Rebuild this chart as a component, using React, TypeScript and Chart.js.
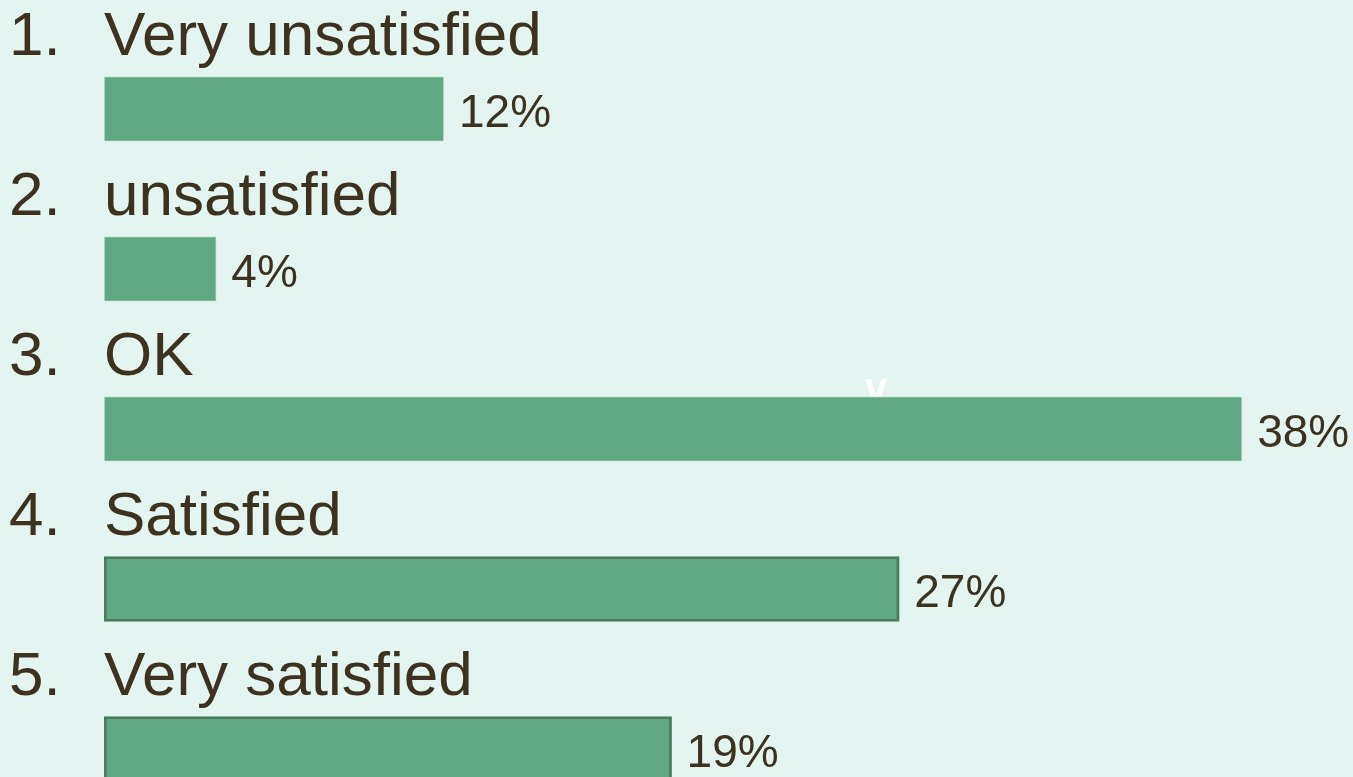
import React, { useEffect, useRef } from "react";
import { Chart, registerables } from "chart.js";

Chart.register(...registerables);

const itemNumbers = ["1.", "2.", "3.", "4.", "5."];
const categories = ["Very unsatisfied", "unsatisfied", "OK", "Satisfied", "Very satisfied"];
const percentValues = [11.5, 3.8, 38.5, 26.9, 19.2];
const valueLabels = ["12%", "4%", "38%", "27%", "19%"];

const BG = "#E4F4F0";
const TEXT = "#3D3220";
const FONT = '"Liberation Sans", Arial, Helvetica, sans-serif';

const labelPlugin = {
  id: "labelPlugin",
  beforeDatasetsDraw(chart: any) {
    const ctx = chart.ctx;
    const meta = chart.getDatasetMeta(0);
    const el = meta.data[2];
    if (!el) return;
    ctx.save();
    ctx.fillStyle = "#FFFFFF";
    ctx.font = `bold 40px ${FONT}`;
    ctx.textAlign = "center";
    ctx.textBaseline = "alphabetic";
    ctx.fillText("v", 876, el.y - 28);
    ctx.restore();
  },
  afterDatasetsDraw(chart: any) {
    const ctx = chart.ctx;
    const meta = chart.getDatasetMeta(0);
    const left = chart.chartArea.left;
    ctx.save();
    ctx.fillStyle = TEXT;
    ctx.textBaseline = "alphabetic";
    ctx.textAlign = "left";
    meta.data.forEach((el: any, i: number) => {
      ctx.font = `62px ${FONT}`;
      ctx.fillText(itemNumbers[i], 9, el.y - 54);
      ctx.fillText(categories[i], left, el.y - 54);
      ctx.font = `46px ${FONT}`;
      ctx.fillText(valueLabels[i], el.x + 15, el.y + 18);
    });
    ctx.restore();
  },
};

export default function App() {
  const canvasRef = useRef<HTMLCanvasElement | null>(null);

  useEffect(() => {
    document.body.style.margin = "0";
    document.body.style.background = BG;
    const canvas = canvasRef.current;
    if (!canvas) return;
    const chart = new Chart(canvas, {
      type: "bar",
      data: {
        labels: categories,
        datasets: [
          {
            data: percentValues,
            backgroundColor: "#61A984",
            borderColor: ["#CFE9DD", "#CFE9DD", "#CFE9DD", "#4A7D5C", "#4A7D5C"],
            borderWidth: [1, 1, 1, 3, 3],
            borderSkipped: false,
            barThickness: 65,
          },
        ],
      },
      options: {
        indexAxis: "y",
        responsive: false,
        animation: false,
        layout: { padding: { top: 29, left: 104, right: 0, bottom: 0 } },
        plugins: {
          legend: { display: false },
          tooltip: { enabled: false },
          title: { display: false },
        },
        scales: {
          x: { display: false, min: 0, max: 42.25 },
          y: { display: false, offset: true },
        },
      },
      plugins: [labelPlugin],
    });
    return () => chart.destroy();
  }, []);

  return (
    <div style={{ width: 1353, height: 777, overflow: "hidden", background: BG, position: "relative" }}>
      <canvas ref={canvasRef} width={1353} height={829} style={{ display: "block" }} />
    </div>
  );
}
